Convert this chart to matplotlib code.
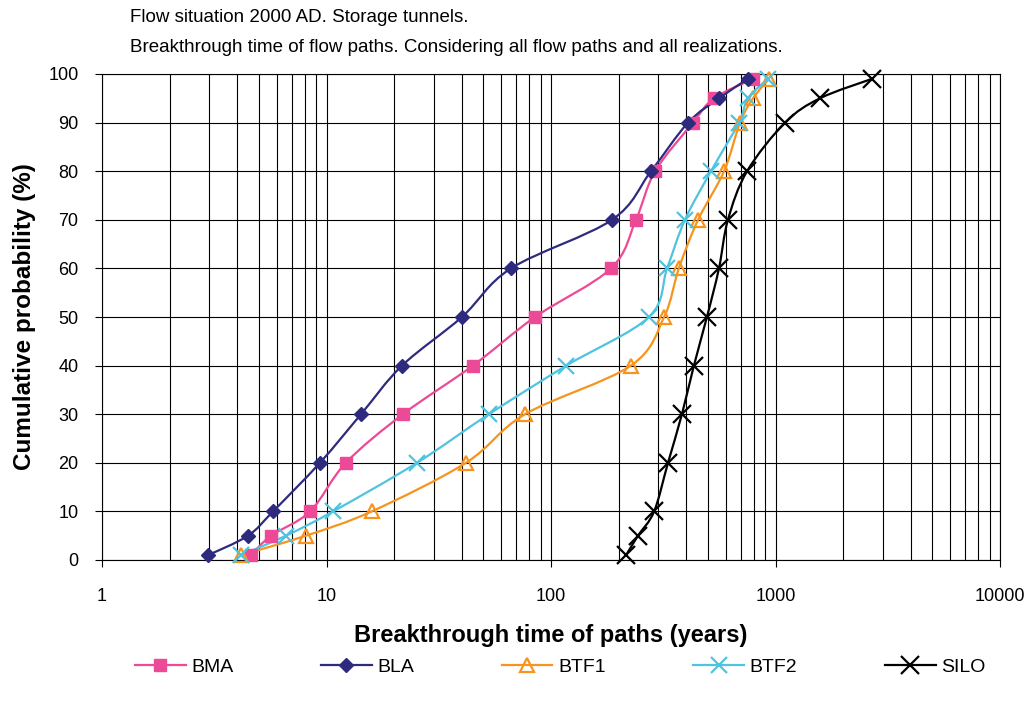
import numpy as np
import matplotlib
matplotlib.use("Agg")
import matplotlib.pyplot as plt
from matplotlib.path import Path
from matplotlib.patches import PathPatch
from matplotlib.lines import Line2D

plt.rcParams['font.family'] = ['Liberation Sans', 'DejaVu Sans']

# Cumulative probability levels (%)
prob = [1, 5, 10, 20, 30, 40, 50, 60, 70, 80, 90, 95, 99]

# Breakthrough times (years) per repository part
bma = [4.61, 5.66, 8.45, 12.2, 21.9, 44.9, 84.9, 185, 239, 291, 429, 532, 794]
bla = [2.97, 4.47, 5.78, 9.35, 14.25, 21.7, 40.1, 66.3, 187, 279, 408, 560, 754]
btf1 = [4.16, 8.1, 15.9, 41.8, 76.6, 227, 319, 371, 452, 590, 695, 794, 936]
btf2 = [4.16, 6.6, 10.7, 25.3, 52.9, 117, 273, 329, 395, 516, 687, 754, 925]
silo = [216, 244, 288, 332, 383, 433, 495, 560, 614, 747, 1103, 1578, 2690]

series_names = ["BMA", "BLA", "BTF1", "BTF2", "SILO"]
series_times = [bma, bla, btf1, btf2, silo]

styles = {
    "BMA":  dict(color="#EC4A96", marker="s", ms=8.0, mfc="#EC4A96", mew=1.0),
    "BLA":  dict(color="#2E2A7E", marker="D", ms=7.5, mfc="#2E2A7E", mew=1.0),
    "BTF1": dict(color="#F7941D", marker="^", ms=10, mfc="none", mew=1.6),
    "BTF2": dict(color="#4FC3DF", marker="x", ms=11, mfc="none", mew=1.6),
    "SILO": dict(color="#000000", marker="x", ms=13, mfc="none", mew=1.6),
}

title_lines = ["Flow situation 2000 AD. Storage tunnels.",
               "Breakthrough time of flow paths. Considering all flow paths and all realizations."]


def smooth_curve(xs, ys):
    """Cardinal-spline Bezier through the points, built in log10(x) space."""
    u = np.log10(np.asarray(xs, float))
    v = np.asarray(ys, float)
    pts = np.column_stack([u, v])
    n = len(pts)
    verts = [pts[0]]
    codes = [Path.MOVETO]
    for i in range(n - 1):
        p0 = pts[i - 1] if i > 0 else pts[i]
        p1 = pts[i]
        p2 = pts[i + 1]
        p3 = pts[i + 2] if i + 2 < n else pts[i + 1]
        c1 = p1 + (p2 - p0) / 6.0
        c2 = p2 - (p3 - p1) / 6.0
        verts += [c1, c2, p2]
        codes += [Path.CURVE4] * 3
    verts = np.array(verts)
    verts[:, 0] = 10 ** verts[:, 0]
    return Path(verts, codes)


fig = plt.figure(figsize=(10.32, 7.07), dpi=100)
ax = fig.add_axes([102 / 1032, 1 - 560 / 707, (1000 - 102) / 1032, (560 - 74) / 707])

ax.set_xscale("log")
ax.set_xlim(1, 10000)
ax.set_ylim(0, 100)

# Gridlines
ax.set_yticks(np.arange(0, 101, 10))
ax.grid(True, which="both", axis="both", color="black", linewidth=0.8)
ax.set_axisbelow(True)
ax.xaxis.set_minor_locator(matplotlib.ticker.LogLocator(base=10, subs=np.arange(2, 10)))
ax.xaxis.set_minor_formatter(matplotlib.ticker.NullFormatter())
ax.xaxis.set_major_formatter(matplotlib.ticker.FuncFormatter(lambda v, p: f"{v:g}"))
ax.tick_params(axis="x", which="major", direction="out", length=5, width=0.8,
               labelsize=13, pad=15, colors="black")
ax.tick_params(axis="x", which="minor", length=0)
ax.tick_params(axis="y", direction="out", length=5, width=0.8, labelsize=13, pad=12)

for sp in ax.spines.values():
    sp.set_color("black")
    sp.set_linewidth(0.8)

handles = []
for name, times in zip(series_names, series_times):
    st = styles[name]
    patch = PathPatch(smooth_curve(times, prob), facecolor="none",
                      edgecolor=st["color"], linewidth=1.6, zorder=3,
                      transform=ax.transData)
    ax.add_patch(patch)
    ax.plot(times, prob, linestyle="none", marker=st["marker"], ms=st["ms"],
            mfc=st["mfc"], mec=st["color"], mew=st["mew"], zorder=4, clip_on=False)
    handles.append(Line2D([], [], color=st["color"], lw=1.6, marker=st["marker"],
                          ms=st["ms"], mfc=st["mfc"], mec=st["color"], mew=st["mew"]))

ax.set_xlabel("Breakthrough time of paths (years)", fontsize=17, fontweight="bold",
              labelpad=14)
ax.set_ylabel("Cumulative probability (%)", fontsize=17.5, fontweight="bold", labelpad=9)

fig.text(130 / 1032, 1 - 18 / 707, title_lines[0], fontsize=13.5, va="center", ha="left")
fig.text(130 / 1032, 1 - 47 / 707, title_lines[1], fontsize=13.5, va="center", ha="left")

fig.legend(handles, series_names, loc="center", ncol=5,
           bbox_to_anchor=(560 / 1032, 1 - 667 / 707), frameon=False,
           fontsize=14, handlelength=2.62, handletextpad=0.28, columnspacing=4.5)

fig.savefig("out.png", dpi=100)
